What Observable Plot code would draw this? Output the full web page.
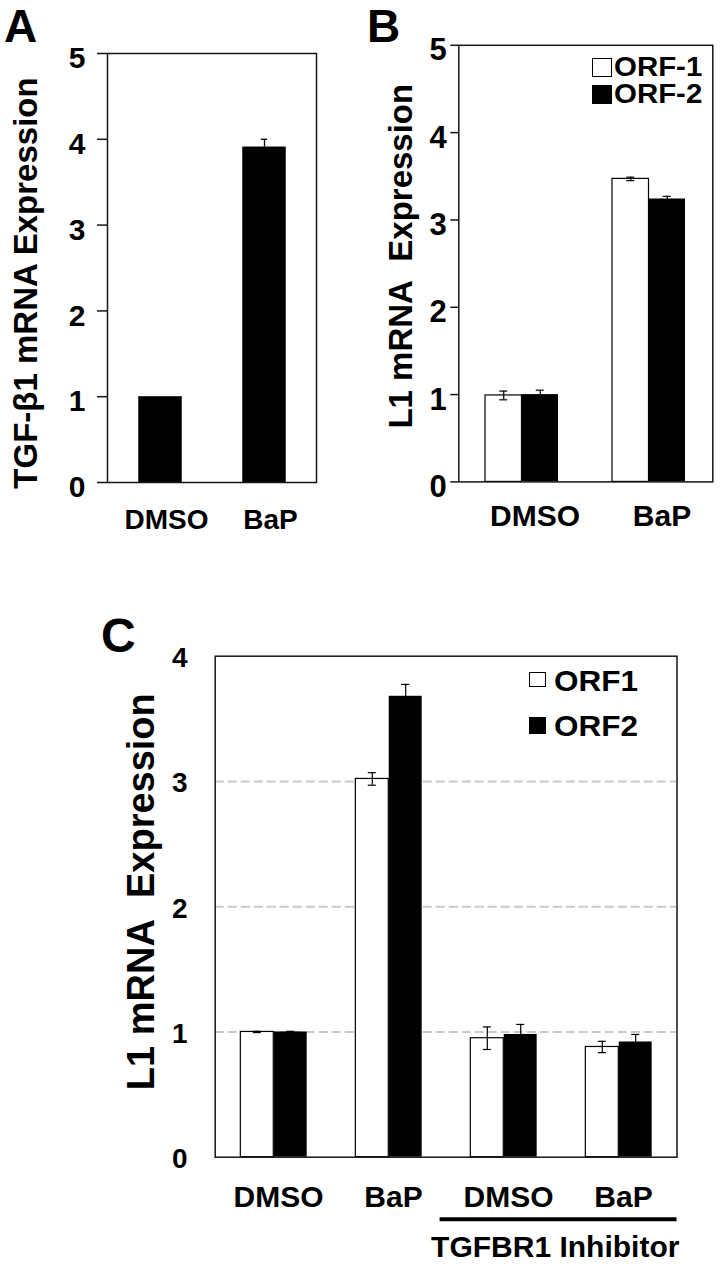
<!DOCTYPE html>
<html><head><meta charset="utf-8">
<script src="https://cdn.jsdelivr.net/npm/d3@7"></script>
<script src="https://cdn.jsdelivr.net/npm/@observablehq/plot@0.6"></script>
<style>
body{margin:0;background:#fff;}
#page{position:relative;width:720px;height:1264px;overflow:hidden;background:#fff;}
</style></head><body><div id="page"></div>
<script>
// ---------- Panel A data ----------
const catsA = ["DMSO", "BaP"];
const tgfValues = [1.0, 3.91];
const tgfErrors = [0, 0.09];
const ticksA = [0, 1, 2, 3, 4, 5];
const titleA = "TGF-\u03b21 mRNA Expression";

// ---------- Panel B data ----------
const catsB = ["DMSO", "BaP"];
const seriesB = ["ORF-1", "ORF-2"];
const orf1B = [0.99, 3.47];
const orf1ErrB = [0.05, 0.02];
const orf2B = [1.0, 3.24];
const orf2ErrB = [0.05, 0.03];
const ticksB = [0, 1, 2, 3, 4, 5];
const titleB = "L1 mRNA\u00a0 Expression";

// ---------- Panel C data ----------
const keysC = ["DMSO", "BaP", "Inhibitor DMSO", "Inhibitor BaP"];
const labelsC = ["DMSO", "BaP", "DMSO", "BaP"];
const seriesC = ["ORF1", "ORF2"];
const orf1C = [1.0, 3.02, 0.95, 0.88];
const orf1ErrC = [0.005, 0.05, 0.09, 0.045];
const orf2C = [1.0, 3.68, 0.98, 0.92];
const orf2ErrC = [0.005, 0.095, 0.08, 0.06];
const inhibitorLabel = "TGFBR1 Inhibitor";
const ticksC = [0, 1, 2, 3, 4];
const gridC = [1, 2, 3];
const titleC = "L1 mRNA\u00a0 Expression";

const FONT = '"Liberation Sans", Arial, Helvetica, sans-serif';
const INK = "#151515";
const page = document.getElementById("page");
const intFmt = d => String(d);

function place(el, left, top) {
  const d = document.createElement("div");
  d.style.cssText = `position:absolute;left:${left}px;top:${top}px;`;
  d.appendChild(el);
  page.appendChild(d);
}
function htmlText(text, left, baseline, size, sx = 1) {
  const s = document.createElement("div");
  s.textContent = text;
  s.style.cssText = `position:absolute;left:${left}px;top:${baseline - 0.8465 * size}px;font:bold ${size}px ${FONT};line-height:${size}px;white-space:nowrap;color:#000;transform-origin:0 0;transform:scaleX(${sx});`;
  page.appendChild(s);
}
function swatch(left, top, w, h, fill) {
  const s = document.createElement("div");
  s.style.cssText = `position:absolute;left:${left}px;top:${top}px;width:${w}px;height:${h}px;box-sizing:border-box;border:1.3px solid #000;background:${fill};`;
  page.appendChild(s);
}
function stretch(svg, label, s) {
  svg.querySelectorAll(`g[aria-label="${label}"] text`).forEach(t => {
    const x = t.getAttribute("x"), y = t.getAttribute("y");
    let tr = t.getAttribute("transform") || "";
    if (x !== null || y !== null) {
      tr = `translate(${x || 0},${y || 0}) ` + tr;
      t.removeAttribute("x"); t.removeAttribute("y");
    }
    t.setAttribute("transform", tr + ` scale(${s},1)`);
  });
}
const baseStyle = {fontFamily: FONT, background: "transparent", overflow: "visible", color: "#000"};

// ================= Panel A =================
const rowsA = catsA.map((c, i) => ({cat: c, v: tgfValues[i], e: tgfErrors[i]}));
const A = {w: 360, h: 560, ml: 107, mr: 44, mt: 53, mb: 78};
const bwA = (A.w - A.ml - A.mr) / catsA.length;
const barWA = 44;
const errA = rowsA.filter(d => d.e > 0);
const svgA = Plot.plot({
  width: A.w, height: A.h, marginLeft: A.ml, marginRight: A.mr, marginTop: A.mt, marginBottom: A.mb,
  style: baseStyle,
  x: {type: "band", domain: catsA, padding: 0, axis: null, label: null},
  y: {domain: [0, 5], axis: null, label: null},
  marks: [
    Plot.barY(rowsA, {x: "cat", y: "v", fill: "#000", insetLeft: (bwA - barWA) / 2, insetRight: (bwA - barWA) / 2}),
    Plot.ruleX(errA, {x: "cat", y1: "v", y2: d => d.v + d.e, stroke: "#000", strokeWidth: 1.3}),
    Plot.tickY(errA, {x: "cat", y: d => d.v + d.e, stroke: "#000", strokeWidth: 1.3, insetLeft: (bwA - 7) / 2, insetRight: (bwA - 7) / 2}),
    Plot.frame({stroke: INK, strokeWidth: 1.5}),
    Plot.axisY({ticks: ticksA, tickSize: 10, tickFormat: () => "", label: null, stroke: INK, strokeWidth: 1.5}),
    Plot.axisY({ticks: ticksA, tickSize: 0, tickPadding: 22, tickFormat: intFmt, label: null, fontSize: 30, fontWeight: "bold", dy: 5, fill: "#000"}),
    Plot.text(catsA, {x: d => d, y: () => 0, text: d => d, dy: 38, dx: 6, fontSize: 28, fontWeight: "bold", fill: "#000", ariaLabel: "xlab"}),
    Plot.text([titleA], {frameAnchor: "left", text: d => d, textAnchor: "middle", rotate: -90, dx: -81, dy: 15, fontSize: 33, fontWeight: "bold", fill: "#000"})
  ]
});
stretch(svgA, "xlab", 1.17);
place(svgA, 0, 0);

// ================= Panel B =================
const rowsB = [];
catsB.forEach((c, i) => {
  rowsB.push({cat: c, s: seriesB[0], v: orf1B[i], e: orf1ErrB[i]});
  rowsB.push({cat: c, s: seriesB[1], v: orf2B[i], e: orf2ErrB[i]});
});
const B = {w: 360, h: 560, ml: 98.3, mr: 7.7, mt: 44.8, mb: 78.6};
const bwB = (B.w - B.ml - B.mr) / catsB.length;
const barWB = 36.5;
const b1 = rowsB.filter(d => d.s === seriesB[0]);
const b2 = rowsB.filter(d => d.s === seriesB[1]);
const capB = 8;
const svgB = Plot.plot({
  width: B.w, height: B.h, marginLeft: B.ml, marginRight: B.mr, marginTop: B.mt, marginBottom: B.mb,
  style: baseStyle,
  x: {type: "band", domain: catsB, padding: 0, axis: null, label: null},
  y: {domain: [0, 5], axis: null, label: null},
  marks: [
    Plot.barY(b1, {x: "cat", y: "v", fill: "#fff", stroke: "#000", strokeWidth: 1.2, insetLeft: bwB / 2 - barWB, insetRight: bwB / 2}),
    Plot.barY(b2, {x: "cat", y: "v", fill: "#000", insetLeft: bwB / 2, insetRight: bwB / 2 - barWB}),
    Plot.ruleX(b1, {x: "cat", y1: d => d.v - d.e, y2: d => d.v + d.e, dx: -barWB / 2, stroke: "#000", strokeWidth: 1.2}),
    Plot.tickY(b1, {x: "cat", y: d => d.v + d.e, insetLeft: bwB / 2 - barWB / 2 - capB / 2, insetRight: bwB / 2 + barWB / 2 - capB / 2, stroke: "#000", strokeWidth: 1.2}),
    Plot.tickY(b1, {x: "cat", y: d => d.v - d.e, insetLeft: bwB / 2 - barWB / 2 - capB / 2, insetRight: bwB / 2 + barWB / 2 - capB / 2, stroke: "#000", strokeWidth: 1.2}),
    Plot.ruleX(b2, {x: "cat", y1: d => d.v - d.e, y2: d => d.v + d.e, dx: barWB / 2, stroke: "#000", strokeWidth: 1.2}),
    Plot.tickY(b2, {x: "cat", y: d => d.v + d.e, insetLeft: bwB / 2 + barWB / 2 - capB / 2, insetRight: bwB / 2 - barWB / 2 - capB / 2, stroke: "#000", strokeWidth: 1.2}),
    Plot.frame({stroke: INK, strokeWidth: 1.5}),
    Plot.axisY({ticks: ticksB, tickSize: 8, tickFormat: () => "", label: null, stroke: INK, strokeWidth: 1.5}),
    Plot.axisY({ticks: ticksB, tickSize: 0, tickPadding: 12, tickFormat: intFmt, label: null, fontSize: 31, fontWeight: "bold", dy: 5, fill: "#000"}),
    Plot.text(catsB, {x: d => d, y: () => 0, text: d => d, dy: 34, dx: 13, fontSize: 30, fontWeight: "bold", fill: "#000", ariaLabel: "xlab"}),
    Plot.text([titleB], {frameAnchor: "left", text: d => d, textAnchor: "middle", rotate: -90, dx: -57.8, dy: -7.4, fontSize: 33, fontWeight: "bold", fill: "#000"})
  ]
});
stretch(svgB, "xlab", 1.08);
place(svgB, 360, 0);

// ================= Panel C =================
const rowsC = [];
keysC.forEach((k, i) => {
  rowsC.push({key: k, label: labelsC[i], s: seriesC[0], v: orf1C[i], e: orf1ErrC[i]});
  rowsC.push({key: k, label: labelsC[i], s: seriesC[1], v: orf2C[i], e: orf2ErrC[i]});
});
const groupsC = keysC.map((k, i) => ({key: k, label: labelsC[i]}));
const C = {w: 720, h: 704, ml: 214.7, mr: 43.5, mt: 95.7, mb: 107.3};
const bwC = (C.w - C.ml - C.mr) / keysC.length;
const barWC = 33.4;
const capC = 8.5;
const c1 = rowsC.filter(d => d.s === seriesC[0]);
const c2 = rowsC.filter(d => d.s === seriesC[1]);
const svgC = Plot.plot({
  width: C.w, height: C.h, marginLeft: C.ml, marginRight: C.mr, marginTop: C.mt, marginBottom: C.mb,
  style: baseStyle,
  x: {type: "band", domain: keysC, padding: 0, axis: null, label: null},
  y: {domain: [0, 4], axis: null, label: null},
  marks: [
    Plot.ruleY(gridC, {stroke: "#c9c9c9", strokeWidth: 2, strokeDasharray: "9,4"}),
    Plot.barY(c1, {x: "key", y: "v", fill: "#fff", stroke: "#000", strokeWidth: 1.2, insetLeft: bwC / 2 - barWC, insetRight: bwC / 2}),
    Plot.barY(c2, {x: "key", y: "v", fill: "#000", insetLeft: bwC / 2, insetRight: bwC / 2 - barWC}),
    Plot.ruleX(c1, {x: "key", y1: d => d.v - d.e, y2: d => d.v + d.e, dx: -barWC / 2, stroke: "#000", strokeWidth: 1.2}),
    Plot.tickY(c1, {x: "key", y: d => d.v + d.e, insetLeft: bwC / 2 - barWC / 2 - capC / 2, insetRight: bwC / 2 + barWC / 2 - capC / 2, stroke: "#000", strokeWidth: 1.2}),
    Plot.tickY(c1, {x: "key", y: d => d.v - d.e, insetLeft: bwC / 2 - barWC / 2 - capC / 2, insetRight: bwC / 2 + barWC / 2 - capC / 2, stroke: "#000", strokeWidth: 1.2}),
    Plot.ruleX(c2, {x: "key", y1: d => d.v - d.e, y2: d => d.v + d.e, dx: barWC / 2, stroke: "#000", strokeWidth: 1.2}),
    Plot.tickY(c2, {x: "key", y: d => d.v + d.e, insetLeft: bwC / 2 + barWC / 2 - capC / 2, insetRight: bwC / 2 - barWC / 2 - capC / 2, stroke: "#000", strokeWidth: 1.2}),
    Plot.frame({stroke: INK, strokeWidth: 1.5}),
    Plot.axisY({ticks: ticksC, tickSize: 0, tickPadding: 27.7, tickFormat: intFmt, label: null, fontSize: 28, fontWeight: "bold", dy: 2, fill: "#000"}),
    Plot.text(groupsC, {x: "key", y: () => 0, text: "label", dy: 40, dx: 4.5, fontSize: 30, fontWeight: "bold", fill: "#000", ariaLabel: "xlab"}),
    Plot.ruleY([0], {dy: 62, insetLeft: 2 * bwC - 6, stroke: "#000", strokeWidth: 4}),
    Plot.text([inhibitorLabel], {x: () => keysC[3], y: () => 0, text: d => d, dx: -bwC / 2 - 6, dy: 90, fontSize: 30, fontWeight: "bold", fill: "#000", ariaLabel: "inh"}),
    Plot.text([titleC], {frameAnchor: "left", text: d => d, textAnchor: "middle", rotate: -90, dx: -73.7, dy: -15, fontSize: 38, fontWeight: "bold", fill: "#000"})
  ]
});
stretch(svgC, "xlab", 1.08);
stretch(svgC, "inh", 1.1);
place(svgC, 0, 560);

// ================= Panel letters & legends =================
htmlText("A", 4, 41.5, 46);
htmlText("B", 367, 41.5, 46);
htmlText("C", 101, 653, 48);

swatch(591.7, 58.3, 20, 18.5, "#fff");
htmlText(seriesB[0], 614, 76.7, 27, 1.09);
swatch(591.7, 85, 20, 19, "#000");
htmlText(seriesB[1], 614, 104, 27, 1.09);

swatch(529, 671.7, 17, 15.6, "#fff");
htmlText(seriesC[0], 553.5, 691.7, 30, 1.05);
swatch(529, 716.7, 17, 17.3, "#000");
htmlText(seriesC[1], 553.5, 736.7, 30, 1.05);
</script>
</body></html>
